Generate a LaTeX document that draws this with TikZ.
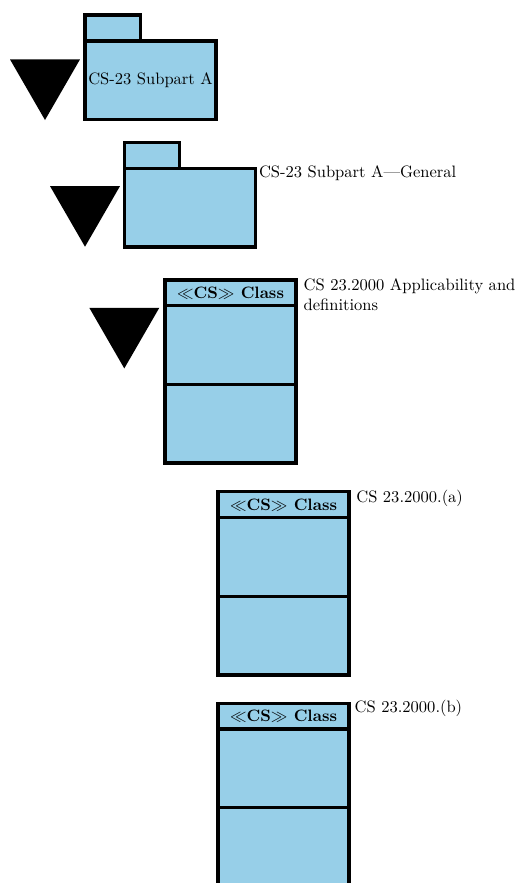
\documentclass[tikz,border=0pt]{standalone}
\usetikzlibrary{positioning, shapes.geometric}

\definecolor{pkgblue}{RGB}{151,207,232}

\begin{document}
\begin{tikzpicture}[
                x=0.605pt, y=-0.605pt,
                node distance=0pt, % compartments share their borders
                box/.style={rectangle, draw, line width=2pt, fill=pkgblue, inner sep=1pt, outer sep=0pt},
                pkg_body/.style={box, minimum width=79.3pt, minimum height=47.6pt},
                pkg_tab/.style={box, minimum width=33.6pt, minimum height=15.7pt},
                cls_head/.style={box, minimum width=79.3pt, minimum height=15.6pt, font=\bfseries},
                cls_comp/.style={box, minimum width=79.3pt, minimum height=47.6pt},
                marker/.style={regular polygon, regular polygon sides=3, shape border rotate=180, fill=black, inner sep=0pt, minimum size=48.9pt},
                lbl/.style={anchor=base west, inner sep=0pt, align=left}
            ]
                \useasboundingbox (0,0) rectangle (519,883);

                % Packages
                \node [pkg_body, anchor=north west] (P_subA) at (85,41) {CS-23 Subpart A};
                \node [pkg_tab, anchor=south west] (P_subA_tab) at (P_subA.north west) {};
                \node [marker] (P_subA_mark) at (45,79.6) {};

                \node [pkg_body, anchor=north west] (P_gen) at (124.3,168.3) {};
                \node [pkg_tab, anchor=south west] (P_gen_tab) at (P_gen.north west) {};
                \node [marker] (P_gen_mark) at (85,206.3) {};
                \node [lbl] (P_gen_lbl) at ([shift={(2pt,-5.7pt)}]P_gen.north east) {CS-23 Subpart A---General};

                % Classes: header, then two compartments below it
                \node [cls_head, anchor=north west] (C_app) at (165,280) {$\ll$CS$\gg$ Class};
                \node [cls_comp, below=of C_app] (C_app_attr) {};
                \node [cls_comp, below=of C_app_attr] (C_app_ops) {};
                \node [marker] (C_app_mark) at (124.3,328) {};
                % base sits on the second line here
                \node [lbl] (C_app_lbl) at ([shift={(4.4pt,-18.5pt)}]C_app.north east) {CS 23.2000 Applicability and\\definitions};

                \node [cls_head, anchor=north west] (C_a) at (218,491.7) {$\ll$CS$\gg$ Class};
                \node [cls_comp, below=of C_a] (C_a_attr) {};
                \node [cls_comp, below=of C_a_attr] (C_a_ops) {};
                \node [lbl] (C_a_lbl) at ([shift={(4.2pt,-6.6pt)}]C_a.north east) {CS 23.2000.(a)};

                \node [cls_head, anchor=north west] (C_b) at (218,703.3) {$\ll$CS$\gg$ Class};
                \node [cls_comp, below=of C_b] (C_b_attr) {};
                \node [cls_comp, below=of C_b_attr] (C_b_ops) {};
                \node [lbl] (C_b_lbl) at ([shift={(3.2pt,-5.7pt)}]C_b.north east) {CS 23.2000.(b)};

            \end{tikzpicture}
\end{document}
